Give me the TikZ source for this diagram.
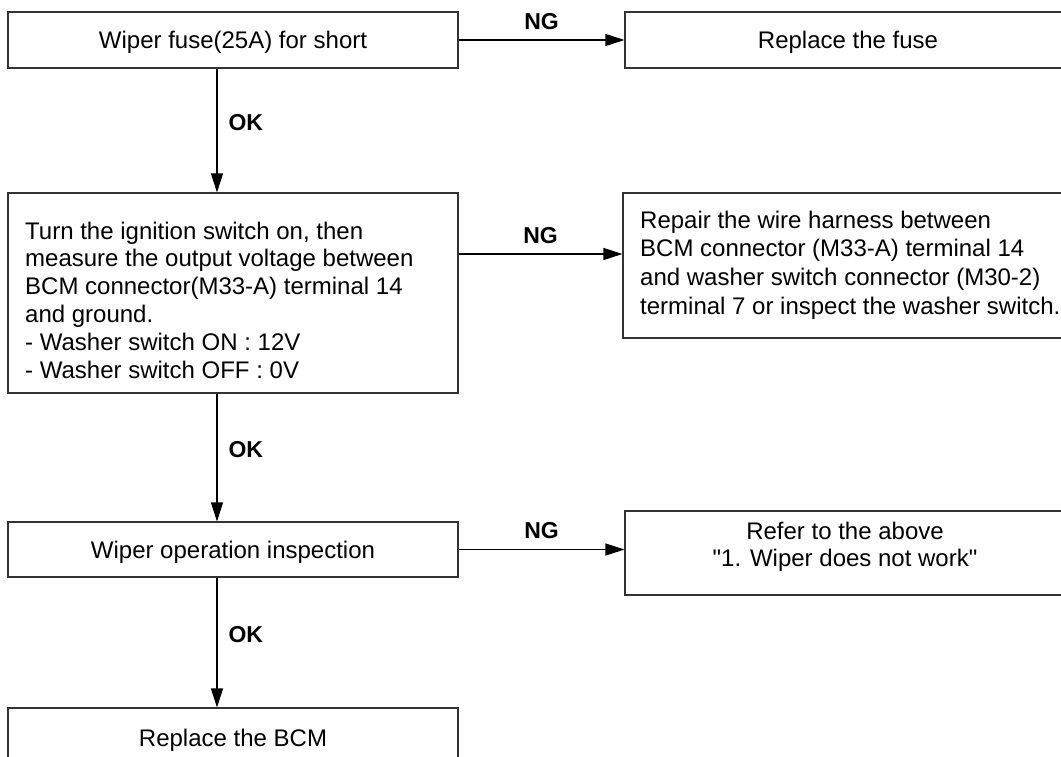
\documentclass[tikz,border=0pt]{standalone}
\usepackage{fontspec}
\setmainfont{Liberation Sans}[Ligatures=TeXOff]
\usetikzlibrary{arrows.meta}
\begin{document}
\begin{tikzpicture}[x=1pt,y=-1pt,
  box/.style={draw=black!80, line width=1.1pt, minimum height=56pt, inner sep=0pt, text height=17pt, text depth=0pt, font=\fontsize{24}{28}\selectfont},
  txt/.style={inner sep=0pt, font=\fontsize{24}{28}\selectfont},
  conn/.style={line width=1.1pt, -{Triangle[length=19pt,width=12pt]}},
  lbl/.style={inner sep=0pt, font=\fontsize{23}{27}\selectfont\bfseries}]
\path[use as bounding box, clip] (0,0) rectangle (1061,756);
% left column
\node[box, minimum width=450pt] (b1) at (233,40) {Wiper fuse(25A) for short};
\node[box, minimum width=450pt, minimum height=200pt] (b2) at (233,293) {};
\node[txt, anchor=north west, align=left, font=\fontsize{24}{27.8}\selectfont] (t2) at (25,221.5)
  {Turn the ignition switch on, then\\measure the output voltage between\\BCM connector(M33-A) terminal 14\\and ground.\\- Washer switch ON : 12V\\- Washer switch OFF : 0V};
\node[box, minimum width=450pt, minimum height=55pt] (b3) at (233,549.5) {Wiper operation inspection};
\node[box, minimum width=450pt, minimum height=60pt] (b4) at (233,738) {Replace the BCM};
% right column
\node[box, minimum width=446pt] (r1) at (848,40) {Replace the fuse};
\node[box, minimum width=448pt, minimum height=145pt] (r2) at (847,265.5) {};
\node[txt, anchor=north west, align=left, font=\fontsize{24}{28.8}\selectfont] (t4) at (640,210.5)
  {Repair the wire harness between\\BCM connector (M33-A) terminal 14\\and washer switch connector (M30-2)\\terminal 7 or inspect the washer switch.};
\node[box, minimum width=446pt, minimum height=84pt] (r3) at (848,553) {};
\node[txt, anchor=north, align=center, font=\fontsize{24}{27}\selectfont] (t6) at (845,521.5)
  {Refer to the above\\"1. Wiper does not work"};
% connectors
\coordinate (ax) at (217,0);
\coordinate (y2) at (0,254);
\draw[conn] (b1.east) -- node[lbl, above=10pt] (ng1) {NG} (r1.west);
\draw[conn] (b2.east |- y2) -- node[lbl, above=10pt] (ng2) {NG} (r2.west |- y2);
\draw[conn] (b3.east) -- node[lbl, above=10pt] (ng3) {NG} (b3.east -| r3.west);
\draw[conn] (b1.south -| ax) -- node[lbl, right=11pt, yshift=8pt] (ok1) {OK} (b2.north -| ax);
\draw[conn] (b2.south -| ax) -- node[lbl, right=11pt, yshift=8pt] (ok2) {OK} (b3.north -| ax);
\draw[conn] (b3.south -| ax) -- node[lbl, right=11pt, yshift=8pt] (ok3) {OK} (b4.north -| ax);
\end{tikzpicture}
\end{document}
